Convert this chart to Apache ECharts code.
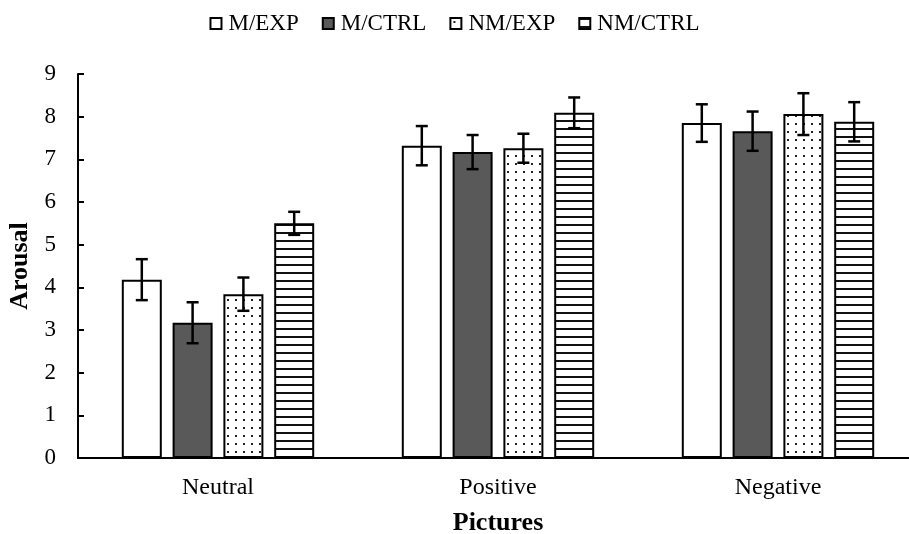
<!DOCTYPE html>
<html>
<head>
<meta charset="utf-8">
<script src="https://cdn.jsdelivr.net/npm/echarts@6/dist/echarts.min.js"></script>
<style>html,body{margin:0;padding:0;background:#fff}#c{width:909px;height:534px}</style>
</head>
<body>
<div id="c"></div>
<script>
var categories = ['Neutral', 'Positive', 'Negative'];
var seriesNames = ['M/EXP', 'M/CTRL', 'NM/EXP', 'NM/CTRL'];
var mExp = [4.18, 7.32, 7.85];
var mCtrl = [3.17, 7.17, 7.66];
var nmExp = [3.84, 7.26, 8.06];
var nmCtrl = [5.50, 8.09, 7.88];
var mExpErr = [0.48, 0.46, 0.44];
var mCtrlErr = [0.48, 0.40, 0.46];
var nmExpErr = [0.39, 0.34, 0.49];
var nmCtrlErr = [0.27, 0.36, 0.46];
var yTicks = [0, 1, 2, 3, 4, 5, 6, 7, 8, 9];

var FONT = 'Liberation Serif';
var BAR_W = 40, GAP = 10.8;

function makeDots() {
  var c = document.createElement('canvas'); c.width = 8; c.height = 8;
  var g = c.getContext('2d');
  g.fillStyle = '#fff'; g.fillRect(0, 0, 8, 8);
  g.fillStyle = '#222'; g.fillRect(3, 3, 2, 2);
  return c;
}
function makeLines() {
  var c = document.createElement('canvas'); c.width = 8; c.height = 8;
  var g = c.getContext('2d');
  g.fillStyle = '#fff'; g.fillRect(0, 0, 8, 8);
  g.fillStyle = '#111'; g.fillRect(0, 0, 8, 2);
  return c;
}
var fills = ['#ffffff', '#595959', {image: makeDots(), repeat: 'repeat'}, {image: makeLines(), repeat: 'repeat'}];
var values = [mExp, mCtrl, nmExp, nmCtrl];
var errs = [mExpErr, mCtrlErr, nmExpErr, nmCtrlErr];

var series = [];
values.forEach(function (vals, i) {
  series.push({
    name: seriesNames[i], type: 'bar', data: vals,
    barWidth: BAR_W, barGap: (GAP / BAR_W * 100) + '%',
    itemStyle: {color: fills[i], borderColor: '#000', borderWidth: 2},
    z: 2
  });
});
values.forEach(function (vals, i) {
  var data = vals.map(function (v, k) { return [k, v - errs[i][k], v + errs[i][k]]; });
  series.push({
    type: 'custom', data: data, z: 5, silent: true,
    renderItem: function (params, api) {
      var off = (i - 1.5) * (BAR_W + GAP);
      var lo = api.coord([api.value(0), api.value(1)]);
      var hi = api.coord([api.value(0), api.value(2)]);
      var x = lo[0] + off, hw = 6;
      var st = {stroke: '#000', lineWidth: 2.5};
      return {type: 'group', children: [
        {type: 'line', shape: {x1: x, y1: lo[1], x2: x, y2: hi[1]}, style: st},
        {type: 'line', shape: {x1: x - hw, y1: lo[1], x2: x + hw, y2: lo[1]}, style: st},
        {type: 'line', shape: {x1: x - hw, y1: hi[1], x2: x + hw, y2: hi[1]}, style: st}
      ]};
    }
  });
});

var chart = echarts.init(document.getElementById('c'), null, {renderer: 'canvas'});
chart.setOption({
  backgroundColor: '#fff',
  animation: false,
  legend: {
    data: seriesNames, top: 7, left: 'center',
    itemWidth: 11, itemHeight: 11, itemGap: 23,
    textStyle: {fontFamily: FONT, fontSize: 23, color: '#000', padding: [0, 0, 0, 2]},
    icon: 'rect',
    itemStyle: {borderColor: '#000', borderWidth: 2}
  },
  grid: {left: 78, right: -9, top: 74, bottom: 76, outerBoundsMode: 'none', containLabel: false},
  xAxis: {
    type: 'category', data: categories,
    name: 'Pictures', nameLocation: 'middle', nameGap: 52,
    nameTextStyle: {fontFamily: FONT, fontSize: 26, fontWeight: 'bold', color: '#000'},
    axisLine: {lineStyle: {color: '#000', width: 2}},
    axisTick: {inside: true, length: 7, lineStyle: {color: '#000', width: 2}},
    axisLabel: {fontFamily: FONT, fontSize: 24, color: '#000', margin: 18},
    splitLine: {show: false}
  },
  yAxis: {
    type: 'value', min: yTicks[0], max: yTicks[yTicks.length - 1], interval: 1,
    name: 'Arousal', nameLocation: 'middle', nameGap: 40,
    nameTextStyle: {fontFamily: FONT, fontSize: 26, fontWeight: 'bold', color: '#000'},
    axisLine: {show: true, lineStyle: {color: '#000', width: 2}},
    axisTick: {show: true, inside: true, length: 6, lineStyle: {color: '#000', width: 2}},
    axisLabel: {fontFamily: FONT, fontSize: 23, color: '#000', margin: 22},
    splitLine: {show: false}
  },
  series: series
});
</script>
</body>
</html>
